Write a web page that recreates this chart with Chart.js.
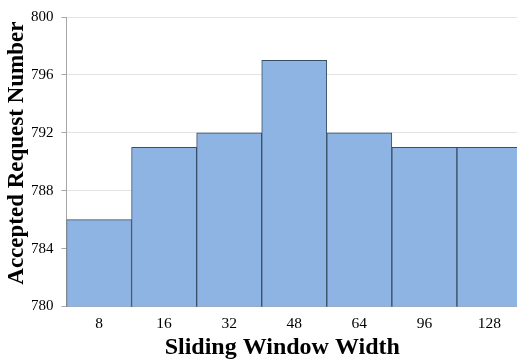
<!DOCTYPE html>
<html>
<head>
<meta charset="utf-8">
<script src="https://cdn.jsdelivr.net/npm/chart.js@4/dist/chart.umd.min.js"></script>
<style>
  html, body { margin: 0; padding: 0; overflow: hidden; background: #fff; }
  #wrap { width: 522px; height: 360px; }
</style>
</head>
<body>
<div id="wrap"><canvas id="barChart"></canvas></div>
<script>
// Data
const windowWidths = ['8', '16', '32', '48', '64', '96', '128'];
const acceptedRequests = [786, 791, 792, 797, 792, 791, 791];
const yTicks = [780, 784, 788, 792, 796, 800];

const ctx = document.getElementById('barChart').getContext('2d');

const barChart = new Chart(ctx, {
  type: 'bar',
  data: {
    labels: windowWidths,
    datasets: [
      {
        label: 'Accepted Request Number',
        data: acceptedRequests,
        backgroundColor: '#8EB4E3',
        borderColor: '#3A4E66',
        borderWidth: 1,
        borderSkipped: false,
        barPercentage: 1,
        categoryPercentage: 1
      }
    ]
  },
  options: {
    responsive: true,
    maintainAspectRatio: false,
    animation: false,
    layout: { padding: { top: 8, left: 6, right: 0, bottom: 0 } },
    plugins: {
      legend: { display: false },
      tooltip: { enabled: false }
    },
    scales: {
      x: {
        grid: { display: false, drawTicks: false },
        border: { color: '#A6A6A6' },
        ticks: {
          color: '#000',
          padding: 10,
          font: { family: 'Liberation Serif', size: 15.5, lineHeight: 1 }
        },
        title: {
          display: true,
          // trailing spaces nudge the title left like the original
          text: 'Sliding Window Width    ',
          color: '#000',
          padding: { top: -6, bottom: 0 },
          font: { family: 'Liberation Serif', size: 24, weight: 'bold', lineHeight: 1 }
        }
      },
      y: {
        min: 780,
        max: 800,
        afterBuildTicks: axis => {
          axis.ticks = yTicks.map(v => ({ value: v }));
        },
        grid: { color: '#E3E3E3', tickLength: 5, tickColor: '#A6A6A6' },
        border: { color: '#A6A6A6' },
        ticks: {
          color: '#000',
          padding: 8,
          font: { family: 'Liberation Serif', size: 15 }
        },
        title: {
          display: true,
          text: '   Accepted Request Number',
          color: '#000',
          padding: { top: 0, bottom: -6 },
          font: { family: 'Liberation Serif', size: 23, weight: 'bold', lineHeight: 1 }
        }
      }
    }
  }
});
</script>
</body>
</html>
